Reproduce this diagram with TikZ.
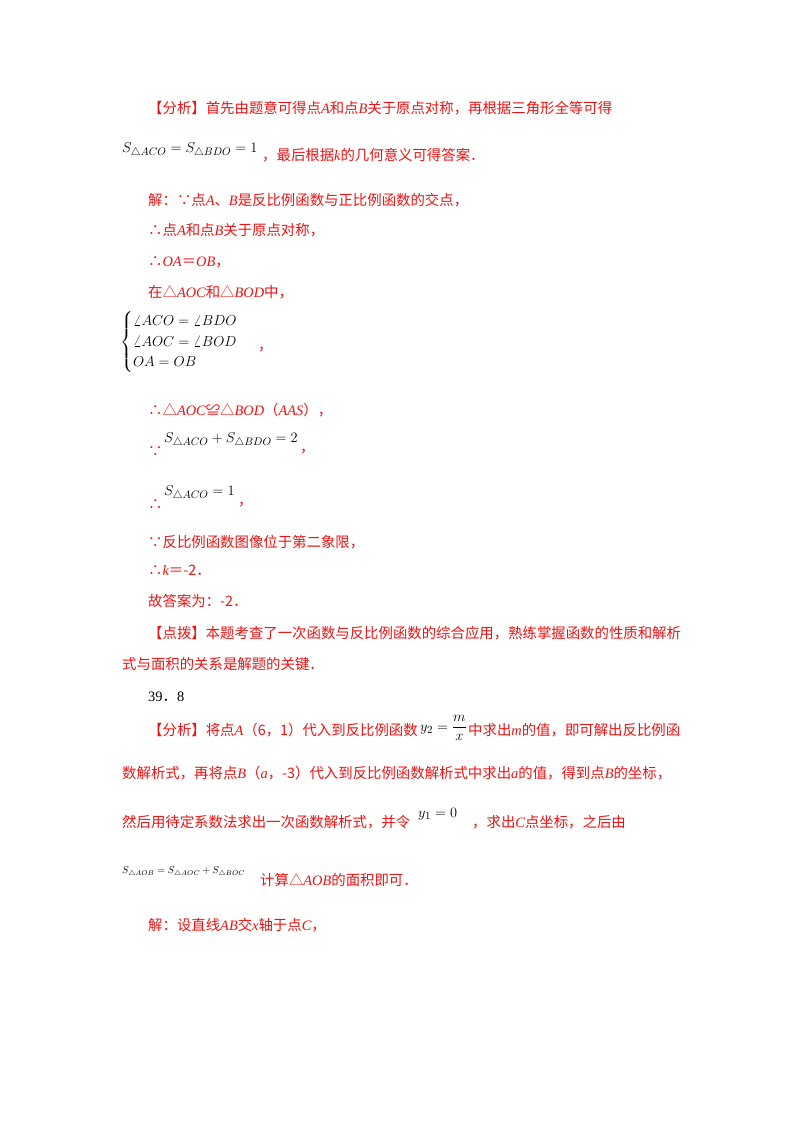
\documentclass[tikz,border=0pt]{standalone}
\usepackage{amsmath}
\usepackage{fontspec}
\setmainfont{Noto Sans CJK SC}
\newfontfamily\tmr{Liberation Serif}
\newcommand{\iv}[1]{{\tmr\itshape #1}}
\newcommand{\rmn}[1]{{\tmr #1}}
\definecolor{rd}{RGB}{235,20,20}
\begin{document}
\begin{tikzpicture}[x=1pt,y=-1pt,
  t/.style={anchor=west,inner sep=0pt,text=rd,font=\fontsize{14.4}{16}\selectfont},
  m/.style={anchor=west,inner sep=0pt,text=black,font=\fontsize{15}{17}\selectfont}]
\path[use as bounding box,fill=white] (0,0) rectangle (800,1132);
\node[t] (l1) at (148,108) {【分析】首先由题意可得点\iv{A}和点\iv{B}关于原点对称，再根据三角形全等可得};
\node[m] (f1) at (122,150) {$S_{\triangle ACO}=S_{\triangle BDO}=1$};
\node[t] (l2) at (262,155) {，最后根据\iv{k}的几何意义可得答案．};
\node[t] (l3) at (148,200) {解：∵点\iv{A}、\iv{B}是反比例函数与正比例函数的交点，};
\node[t] (l4) at (148,230) {∴点\iv{A}和点\iv{B}关于原点对称，};
\node[t] (l5) at (148,262) {∴\iv{OA}＝\iv{OB}，};
\node[t] (l6) at (148,292) {在△\iv{AOC}和△\iv{BOD}中，};
\node[m] (sys) at (120,342) {$\begin{cases}\angle ACO=\angle BDO\\ \angle AOC=\angle BOD\\ OA=OB\end{cases}$};
\node[t] (l7) at (258,350) {，};
\node[t] (l8) at (148,410) {∴△\iv{AOC}≌△\iv{BOD}（\iv{AAS}），};
\node[t] (l9) at (148,452) {∵};
\node[m] (f2) at (164,440) {$S_{\triangle ACO}+S_{\triangle BDO}=2$};
\node[t] (l10) at (300,452) {，};
\node[t] (l11) at (148,505) {∴};
\node[m] (f3) at (164,493) {$S_{\triangle ACO}=1$};
\node[t] (l12) at (238,505) {，};
\node[t] (l13) at (148,542) {∵反比例函数图像位于第二象限，};
\node[t] (l14) at (148,570) {∴\iv{k}＝-2．};
\node[t] (l15) at (148,601) {故答案为：-2．};
\node[t] (l16) at (148,633) {【点拨】本题考查了一次函数与反比例函数的综合应用，熟练掌握函数的性质和解析};
\node[t] (l17) at (122,664) {式与面积的关系是解题的关键．};
\node[t,text=black] (l18) at (148,697) {\rmn{39}．\rmn{8}};
\node[t] (l19) at (148,730) {【分析】将点\iv{A}（6，1）代入到反比例函数};
\node[m] (f4) at (420,728) {$y_2=\displaystyle\frac{m}{x}$};
\node[t] (l20) at (468,730) {中求出\iv{m}的值，即可解出反比例函};
\node[t] (l21) at (122,773) {数解析式，再将点\iv{B}（\iv{a}，-3）代入到反比例函数解析式中求出\iv{a}的值，得到点\iv{B}的坐标，};
\node[t] (l22) at (122,822) {然后用待定系数法求出一次函数解析式，并令};
\node[m] (f5) at (418,814) {$y_1=0$};
\node[t] (l23) at (472,822) {，求出\iv{C}点坐标，之后由};
\node[m,font=\fontsize{10}{12}\selectfont] (f6) at (122,872) {$S_{\triangle AOB}=S_{\triangle AOC}+S_{\triangle BOC}$};
\node[t] (l24) at (260,880) {计算△\iv{AOB}的面积即可．};
\node[t] (l25) at (148,925) {解：设直线\iv{AB}交\iv{x}轴于点\iv{C}，};
\end{tikzpicture}
\end{document}
